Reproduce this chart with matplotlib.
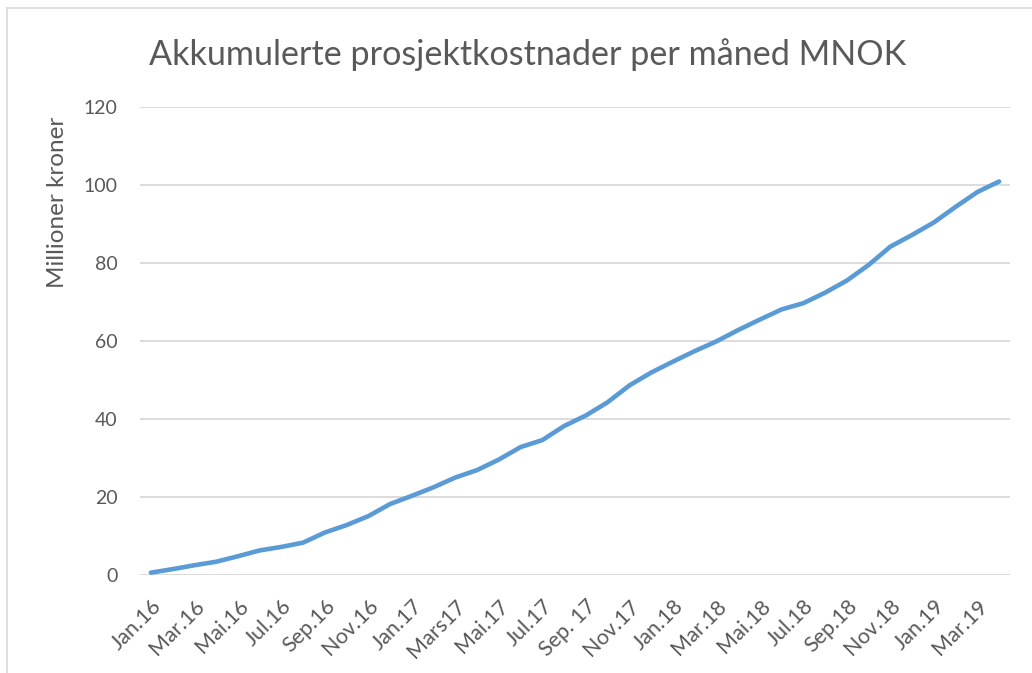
import matplotlib.pyplot as plt
from matplotlib.lines import Line2D

months = [
    "Jan.16", "Feb.16", "Mar.16", "Apr.16", "Mai.16", "Jun.16", "Jul.16", "Aug.16",
    "Sep.16", "Okt.16", "Nov.16", "Des.16", "Jan.17", "Feb.17", "Mars17", "Apr.17",
    "Mai.17", "Jun.17", "Jul.17", "Aug.17", "Sep. 17", "Okt.17", "Nov.17", "Des.17",
    "Jan.18", "Feb.18", "Mar.18", "Apr.18", "Mai.18", "Jun.18", "Jul.18", "Aug.18",
    "Sep.18", "Okt.18", "Nov.18", "Des.18", "Jan.19", "Feb.19", "Mar.19", "Apr.19",
]
kostnad = [
    0.6, 1.5, 2.5, 3.4, 4.8, 6.3, 7.2, 8.3, 10.9, 12.8,
    15.1, 18.2, 20.3, 22.5, 25.0, 26.9, 29.6, 32.8, 34.6, 38.2,
    40.9, 44.3, 48.6, 51.9, 54.7, 57.4, 59.9, 62.8, 65.5, 68.1,
    69.7, 72.4, 75.5, 79.5, 84.2, 87.2, 90.4, 94.4, 98.2, 100.9,
]

plt.rcParams["font.family"] = ["Lato", "DejaVu Sans"]
grey = "#595959"

fig = plt.figure(figsize=(10.32, 6.73), dpi=100)
ax = fig.add_axes([140 / 1032, 98 / 673, 870 / 1032, 468 / 673])

x = list(range(len(months)))
ax.plot(x, kostnad, color="#5B9BD5", linewidth=3.3, solid_capstyle="round",
        solid_joinstyle="round", zorder=3)

ax.set_xlim(-0.5, len(months) - 0.5)
ax.set_ylim(0, 120)
ax.set_yticks(range(0, 121, 20))
ax.grid(axis="y", color="#D9D9D9", linewidth=1.3)
ax.set_axisbelow(True)
for s in ax.spines.values():
    s.set_visible(False)
ax.tick_params(length=0, labelsize=14, colors=grey)
ax.tick_params(axis="y", pad=16)

ax.set_xticks(x[::2])
ax.set_xticklabels(months[::2], rotation=45, ha="right", rotation_mode="anchor")
ax.tick_params(axis="x", labelsize=15.5, pad=15)

# y label sits high, as in the original chart
fig.text(58 / 1032, 1 - 202 / 673, "Millioner kroner", rotation=90,
         ha="center", va="center", fontsize=17.5, color=grey)
fig.text(0.511, 1 - 55 / 673, "Akkumulerte prosjektkostnader per måned MNOK",
         ha="center", va="center", fontsize=24.6, color=grey)

# chart frame
fig.add_artist(Line2D([7 / 1032, 7 / 1032], [0, 1 - 8 / 673], color="#D9D9D9", lw=1.2))
fig.add_artist(Line2D([7 / 1032, 1], [1 - 8 / 673, 1 - 8 / 673], color="#D9D9D9", lw=1.2))

fig.savefig("out.png", dpi=100)
